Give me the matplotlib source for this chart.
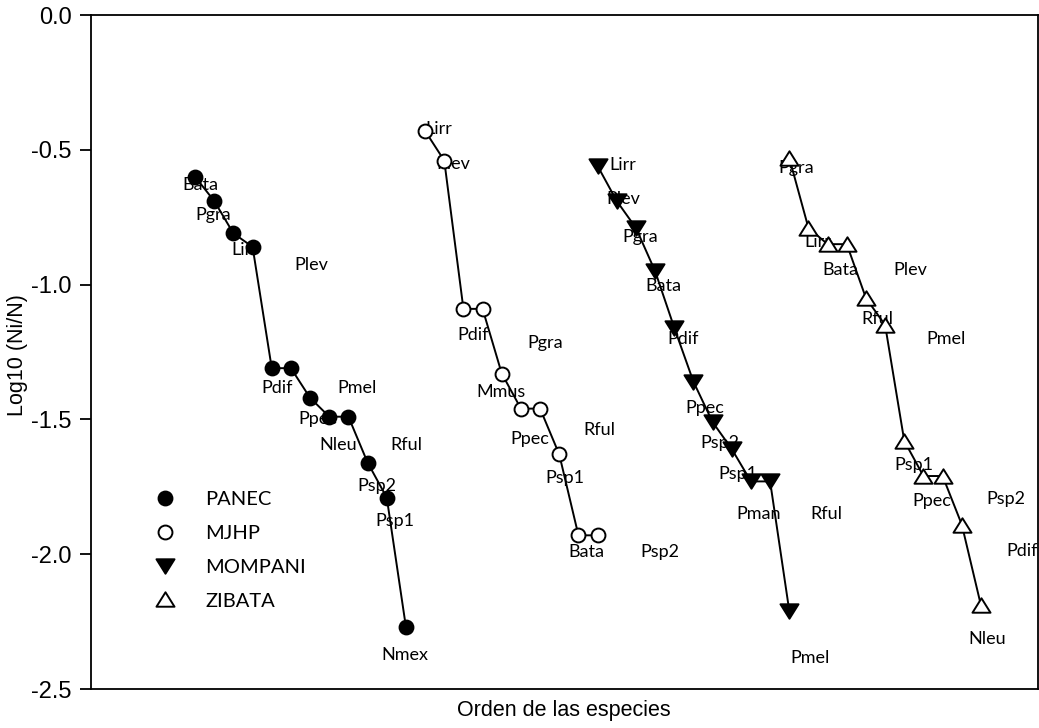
import matplotlib
matplotlib.use("Agg")
import matplotlib.pyplot as plt
from matplotlib.path import Path
import numpy as np

# Rango-abundancia: log10(Ni/N) por sitio, especies ordenadas
panec_x = list(range(1, 13))
panec_y = [-0.60, -0.69, -0.81, -0.86, -1.31, -1.31, -1.42, -1.49, -1.49, -1.66, -1.79, -2.27]
panec_sp = ["Bata", "Pgra", "Lirr", "Plev", "Pdif", "Pmel", "Ppec", "Nleu", "Rful", "Psp2", "Psp1", "Nmex"]

mjhp_x = list(range(13, 23))
mjhp_y = [-0.43, -0.54, -1.09, -1.09, -1.33, -1.46, -1.46, -1.63, -1.93, -1.93]
mjhp_sp = ["Lirr", "Plev", "Pdif", "Pgra", "Mmus", "Ppec", "Rful", "Psp1", "Bata", "Psp2"]

mompani_x = list(range(22, 33))
mompani_y = [-0.56, -0.69, -0.79, -0.95, -1.16, -1.36, -1.51, -1.61, -1.73, -1.73, -2.21]
mompani_sp = ["Lirr", "Plev", "Pgra", "Bata", "Pdif", "Ppec", "Psp2", "Psp1", "Pman", "Rful", "Pmel"]

zibata_x = list(range(32, 43))
zibata_y = [-0.53, -0.79, -0.85, -0.85, -1.05, -1.15, -1.58, -1.71, -1.71, -1.89, -2.19]
zibata_sp = ["Pgra", "Lirr", "Bata", "Plev", "Rful", "Pmel", "Psp1", "Ppec", "Psp2", "Pdif", "Nleu"]

# desplazamiento de cada etiqueta respecto a su punto (pixeles, x derecha / y abajo)
panec_off = [(5, 8), (-1, 14), (11, 17), (59, 18), (5, 20), (66, 20),
             (8, 21), (9, 28), (58, 28), (9, 23), (8, 23), (-1, 28)]
mjhp_off = [(14, -2), (9, 3), (10, 26), (63, 34), (-1, 18), (9, 30),
            (59, 21), (6, 24), (8, 17), (62, 17)]
mompani_off = [(25, -1), (7, -2), (4, 9), (8, 15), (9, 11), (11, 26),
               (7, 21), (6, 25), (8, 33), (56, 33), (21, 47)]
zibata_off = [(7, 10), (9, 14), (13, 26), (64, 26), (11, 21), (61, 14),
              (10, 24), (8, 25), (63, 23), (60, 26), (6, 34)]

# triangulos algo mas anchos que altos (trayectoria cerrada para que se rellenen)
tri_down = Path([(-1, 0.8), (1, 0.8), (0, -0.8), (-1, 0.8)], closed=True)
tri_up = Path([(-1, -0.8), (1, -0.8), (0, 0.8), (-1, -0.8)], closed=True)

series = [
    ("PANEC", panec_x, panec_y, panec_sp, panec_off, "o", 10, "black"),
    ("MJHP", mjhp_x, mjhp_y, mjhp_sp, mjhp_off, "o", 10, "white"),
    ("MOMPANI", mompani_x, mompani_y, mompani_sp, mompani_off, tri_down, 13, "black"),
    ("ZIBATA", zibata_x, zibata_y, zibata_sp, zibata_off, tri_up, 13, "white"),
]

label_font = ["Lato", "DejaVu Sans"]
axis_font = ["Liberation Sans", "DejaVu Sans"]

fig = plt.figure(figsize=(10.39, 7.28), dpi=100)
ax = fig.add_axes([91 / 1039, 39 / 728, (1037.5 - 91) / 1039, (689 - 15) / 728])

handles = []
for name, xs, ys, sps, offs, mk, ms, fc in series:
    ax.plot(xs, ys, "-", color="black", lw=1.4, zorder=2)
    h, = ax.plot(xs, ys, linestyle="none", marker=mk, markersize=ms,
                 markerfacecolor=fc, markeredgecolor="black", markeredgewidth=1.4,
                 zorder=3, label=name)
    handles.append(h)
    # las etiquetas quedan por debajo de lineas y marcadores
    for x, y, sp, (dx, dy) in zip(xs, ys, sps, offs):
        ax.annotate(sp, (x, y), xytext=(dx, -dy), textcoords="offset pixels",
                    ha="center", va="center", fontsize=13, family=label_font,
                    zorder=1.5)

ax.set_xlim(-4.43, 44.95)
ax.set_ylim(-2.5, 0.0)
ax.set_yticks(np.arange(-2.5, 0.01, 0.5))
ax.set_yticklabels([f"{v:.1f}" for v in np.arange(-2.5, 0.01, 0.5)],
                   fontsize=17, family=axis_font)
ax.set_xticks([])
ax.tick_params(axis="y", direction="out", length=8, width=1.3, pad=6)
for s in ax.spines.values():
    s.set_linewidth(1.3)

ax.set_xlabel("Orden de las especies", fontsize=15.5, family=axis_font, labelpad=8)
fig.text(18 / 1039, 1 - 355 / 728, "Log10 (Ni/N)", rotation=90, ha="center",
         va="center", fontsize=15.5, family=axis_font)

ax.legend(handles=handles, loc="upper left",
          bbox_to_anchor=(155 / 1039, 1 - 491 / 728), bbox_transform=fig.transFigure,
          frameon=False, borderpad=0, borderaxespad=0, handlelength=1.0,
          handletextpad=1.5, labelspacing=0.83,
          prop={"family": label_font, "size": 14.5})

fig.savefig("out.png", dpi=100, facecolor="white")
